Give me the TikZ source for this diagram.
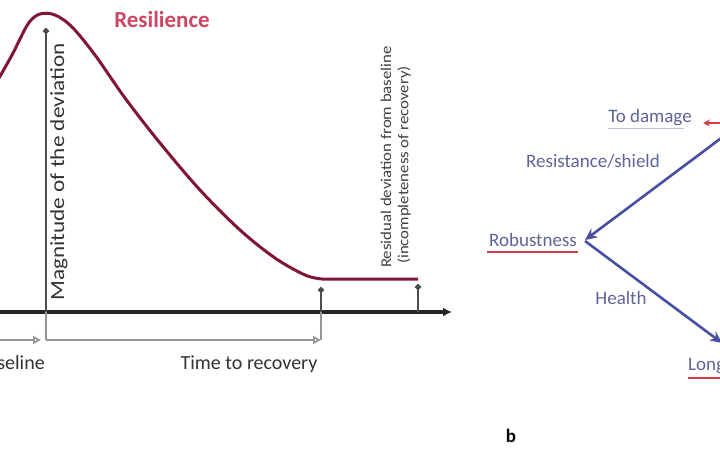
\documentclass[tikz,border=0pt]{standalone}
\usepackage{fontspec}
\usepackage{graphicx}
\setmainfont{Carlito}
\usetikzlibrary{arrows.meta}
\definecolor{curvered}{RGB}{128,22,52}
\definecolor{pinkred}{RGB}{205,70,100}
\definecolor{labblue}{RGB}{95,100,150}
\definecolor{arrblue}{RGB}{72,78,160}
\definecolor{ulred}{RGB}{215,60,70}
\definecolor{greyline}{RGB}{150,150,150}
\tikzset{
  lab/.style={inner sep=0pt, font=\fontsize{20}{24}\selectfont},
  smalllab/.style={inner sep=0pt, font=\fontsize{15}{18}\selectfont, text=black!75},
  blab/.style={inner sep=0pt, font=\fontsize{19}{23}\selectfont, text=labblue},
  axisline/.style={line width=3.5pt, black!85, -{Latex[length=9pt,width=9pt]}},
  darkarrow/.style={line width=2.2pt, black!70, -{Circle[length=6pt]}},
  greyarrow/.style={line width=1.8pt, greyline, -{Triangle[open,length=8pt,width=8pt]}},
  greylineS/.style={line width=1.8pt, greyline},
  bluearrow/.style={line width=2.6pt, arrblue, -{Stealth[length=12pt,width=11pt]}},
  ul/.style={line width=2pt, ulred},
}
\begin{document}
\begin{tikzpicture}[x=1pt,y=-1pt]
\useasboundingbox (0,0) rectangle (720,450);
\clip (0,0) rectangle (720,450);
% ---------- part a ----------
\coordinate (axL) at (-5,312);
\coordinate (axR) at (452,312);
\coordinate (O) at (46,312);
\coordinate (peak) at (46,28);
\coordinate (Rtop) at (321,287);
\coordinate (Rbot) at (321,340);
\coordinate (Sbot) at (418,312);
\coordinate (Stop) at (418,284);
\coordinate (gL) at (-5,340);
\coordinate (gM) at (41,340);
\coordinate (gS) at (46,340);
\coordinate (gE) at (321,340);

% resilience curve
\draw[curvered, line width=3pt, line join=round]
  plot[smooth, tension=0.55] coordinates {(-5,85) (12,55) (28,24) (40,14) (55,15) (72,27) (95,55) (125,98) (160,143) (200,190) (240,230) (275,258) (305,275) (322,279)}
  -- (418,279);

\draw[axisline] (axL) -- (axR);
\draw[darkarrow] (O) -- (peak);
\draw[greylineS] (O) -- (gS);
\draw[greyarrow] (gL) -- (gM);
\draw[greyarrow] (gS) -- (gE);
\draw[line width=1.8pt, greyline] (Rbot) -- (321,312);
\draw[darkarrow] (321,312) -- (Rtop);
\draw[darkarrow] (Sbot) -- (Stop);

\node[lab, text=pinkred, font=\bfseries\fontsize{23}{27}\selectfont] (res) at (162,20) {Resilience};
\node[lab, rotate=90, text=black!80] (mag) at (59,172) {\scalebox{1.16}[1]{Magnitude of the deviation}};
\node[smalllab, rotate=90] (resid) at (386,157) {\scalebox{1.12}[1]{Residual deviation from baseline}};
\node[smalllab, rotate=90] (incomp) at (404,165) {\scalebox{1.12}[1]{(incompleteness of recovery)}};
\node[lab, text=black!80, anchor=east] (base) at (45,363) {baseline};
\node[lab, text=black!80] (ttr) at (249,364) {Time to recovery};

% ---------- part b ----------
\node[inner sep=0pt, font=\bfseries\fontsize{19}{23}\selectfont] (b) at (511,436) {b};
\node[blab] (dmg) at (650,118) {To damage};
\draw[line width=0.8pt, labblue!40] (dmg.south west) ++(0,2) -- ++(76,0);
\coordinate (dmgR) at (725,123);
\draw[line width=2pt, ulred, -{Stealth[length=7pt,width=7pt]}] (dmgR) -- (703,123);
\node[blab] (resist) at (593,161) {Resistance/shield};
\node[blab] (rob) at (533,240) {Robustness};
\draw[ul] (487,252) -- (578,252);
\node[blab] (health) at (621,298) {Health};
\node[blab, anchor=west] (lon) at (688,366) {Longevity};
\draw[ul] (688,378) -- (740,378);
\coordinate (vtop) at (724,136);
\coordinate (lonarr) at (722,343);
\draw[bluearrow] (vtop) -- (585,240);
\draw[bluearrow] (585,241) -- (lonarr);
\end{tikzpicture}
\end{document}
